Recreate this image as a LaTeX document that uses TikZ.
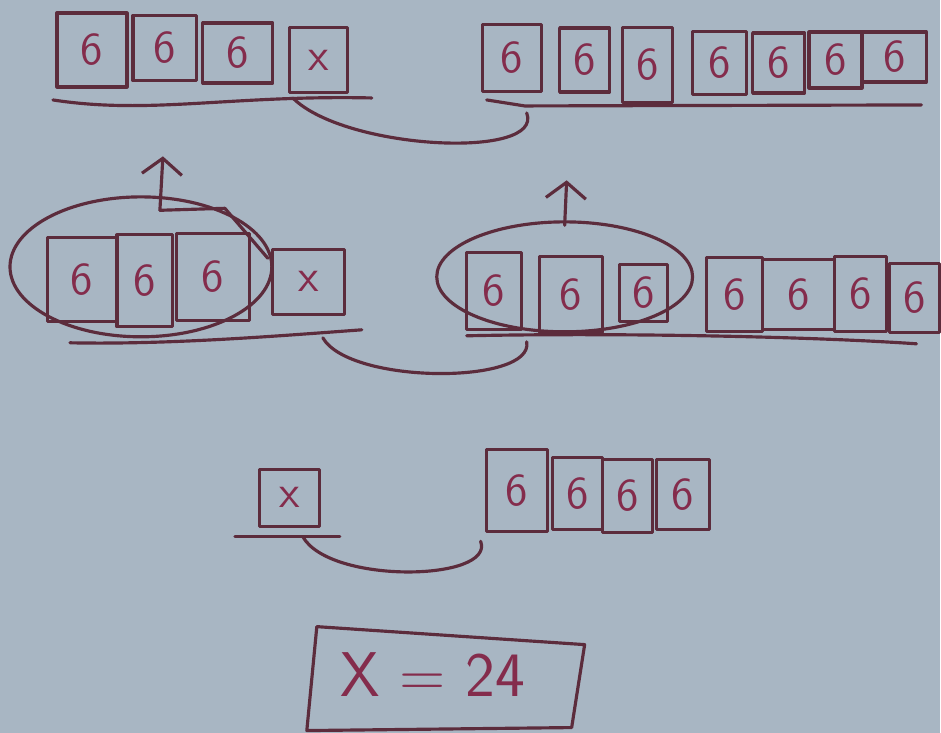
\documentclass[tikz,border=0pt]{standalone}
\usetikzlibrary{arrows.meta,positioning,shapes.geometric}
\definecolor{paper}{RGB}{168,182,195}
\definecolor{ink}{RGB}{92,44,60}
\definecolor{inkr}{RGB}{132,44,76}
\tikzset{
 pen/.style={draw=ink,line width=0.9pt,line cap=round,line join=round},
 cell/.style={pen,inner sep=0pt,text=inkr,font=\sffamily\fontsize{13}{14}\selectfont},
 ring/.style={pen,ellipse,inner sep=0pt},
}
\begin{document}
\begin{tikzpicture}[>={Straight Barb[length=1.6mm,width=4mm]}]
\fill[paper] (0,0) rectangle (9.41,-7.33);
% top row
\foreach \n/\x/\y/\w/\h/\lbl in {1/0.92/0.50/0.70/0.74/6,2/1.65/0.48/0.64/0.65/6,3/2.38/0.53/0.70/0.60/6,4/3.19/0.60/0.58/0.65/x}
 \node[cell,minimum width=\w cm,minimum height=\h cm] (a\n) at (\x,-\y) {\lbl};
\foreach \n/\x/\y/\w/\h in {1/5.12/0.58/0.59/0.67,2/5.85/0.60/0.50/0.64,3/6.48/0.65/0.50/0.75,4/7.20/0.63/0.54/0.63,5/7.79/0.63/0.52/0.60,6/8.36/0.60/0.53/0.56,7/8.95/0.57/0.64/0.50}
 \node[cell,minimum width=\w cm,minimum height=\h cm] (b\n) at (\x,-\y) {6};
\draw[pen] (0.53,-1.00) .. controls (1.5,-1.15) and (2.3,-0.95) .. (3.72,-0.98);
\draw[pen] (4.87,-1.00) -- (5.25,-1.06) -- (9.22,-1.05);
\coordinate (u1) at (2.93,-0.98);
\coordinate (v1) at (5.27,-1.13);
\draw[pen] (u1) .. controls +(0.52,-0.52) and +(0.18,-0.47) .. (v1);
% middle row
\foreach \n/\x/\y/\w/\h/\lbl in {1/0.82/2.80/0.69/0.84/6,2/1.45/2.81/0.56/0.92/6,3/2.13/2.77/0.73/0.87/6,4/3.09/2.82/0.72/0.65/x}
 \node[cell,minimum width=\w cm,minimum height=\h cm] (c\n) at (\x,-\y) {\lbl};
\foreach \n/\x/\y/\w/\h in {1/4.94/2.91/0.55/0.77,2/5.71/2.95/0.63/0.76,3/6.44/2.93/0.48/0.57,4/7.35/2.95/0.56/0.74,5/7.99/2.95/0.72/0.70,6/8.61/2.94/0.52/0.75,7/9.15/2.98/0.50/0.69}
 \node[cell,minimum width=\w cm,minimum height=\h cm] (d\n) at (\x,-\y) {6};
\node[ring,minimum width=2.62cm,minimum height=1.40cm] (ringL) at (1.41,-2.67) {};
\node[ring,minimum width=2.56cm,minimum height=1.10cm] (ringR) at (5.65,-2.77) {};
\coordinate (aL) at ([shift={(0.19,-0.15)}]ringL.north);
\draw[pen,->] (aL) -- ++(0.03,0.54);
\draw[pen] (aL) -- ++(0.65,0.02) -- ++(0.43,-0.5);
\draw[pen,->] ([yshift=-0.05cm]ringR.north) -- ++(0.02,0.45);
\draw[pen] (0.70,-3.43) .. controls (1.7,-3.45) and (2.8,-3.36) .. (3.62,-3.30);
\draw[pen] (4.67,-3.36) .. controls (6.0,-3.33) and (8.0,-3.36) .. (9.17,-3.44);
\coordinate (u2) at (3.23,-3.38);
\coordinate (v2) at (5.27,-3.42);
\draw[pen] (u2) .. controls +(0.27,-0.47) and +(0.08,-0.43) .. (v2);
% bottom row
\node[cell,minimum width=0.60cm,minimum height=0.57cm] (x3) at (2.90,-4.98) {x};
\foreach \n/\x/\y/\w/\h in {1/5.17/4.91/0.61/0.82,2/5.78/4.94/0.50/0.72,3/6.28/4.96/0.50/0.73,4/6.83/4.95/0.53/0.70}
 \node[cell,minimum width=\w cm,minimum height=\h cm] (e\n) at (\x,-\y) {6};
\draw[pen] (2.35,-5.37) -- (3.40,-5.37);
\coordinate (u3) at (3.03,-5.37);
\draw[pen] (u3) .. controls +(0.27,-0.48) and +(0.15,-0.40) .. ([shift={(-0.04,-0.08)}]e1.south west);
% result
\node[text=inkr,font=\sffamily\fontsize{18}{20}\selectfont] (ans) at (4.33,-6.75) {X = 24};
\draw[pen] (3.17,-6.27) -- (5.85,-6.45) -- (5.72,-7.28) -- (3.07,-7.31) -- cycle;
\end{tikzpicture}
\end{document}
